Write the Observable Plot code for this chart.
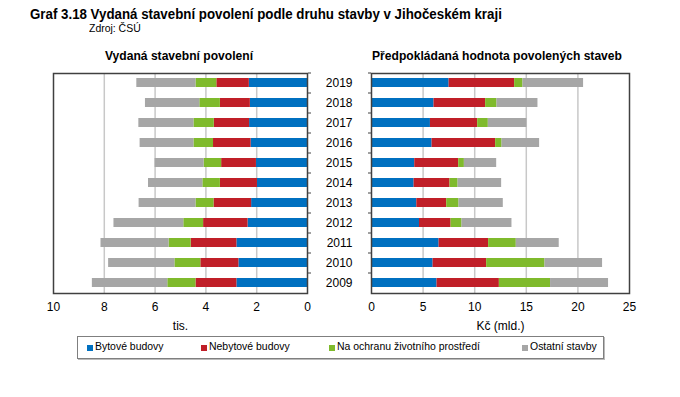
<!DOCTYPE html>
<html><head><meta charset="utf-8">
<script src="https://cdn.jsdelivr.net/npm/d3@7"></script>
<script src="https://cdn.jsdelivr.net/npm/@observablehq/plot@0.6"></script>
<style>
body{margin:0;background:#fff;}
#wrap{position:relative;width:680px;height:397px;font-family:"Liberation Sans",Arial,sans-serif;color:#000;overflow:hidden;}
.abs{position:absolute;white-space:nowrap;}
#title{left:30px;top:6px;font-size:14px;font-weight:bold;transform:scaleX(0.95);transform-origin:0 0;}
#src{left:89px;top:22px;font-size:11px;transform:scaleX(0.95);transform-origin:0 0;}
.ptitle{top:48px;font-size:13px;font-weight:bold;transform:translateX(-50%) scaleX(0.93);}
#legend{left:77px;top:336px;width:525px;height:21px;border:1px solid #7f7f7f;box-shadow:1px 1px 0 #bbb;}
.sw{position:absolute;width:6px;height:6px;top:8px;}
.lt{position:absolute;top:3px;font-size:11px;transform:scaleX(0.95);transform-origin:0 0;}
</style></head>
<body><div id="wrap">
<div id="title" class="abs">Graf 3.18 Vydaná stavební povolení podle druhu stavby v Jihočeském kraji</div>
<div id="src" class="abs">Zdroj: ČSÚ</div>
<div class="abs ptitle" style="left:179px">Vydaná stavební povolení</div>
<div class="abs ptitle" style="left:497px">Předpokládaná hodnota povolených staveb</div>
<div id="left" class="abs" style="left:0;top:0"></div>
<div id="right" class="abs" style="left:310px;top:0"></div>
<div id="legend" class="abs"></div>
</div>
<script>
const years = [2019,2018,2017,2016,2015,2014,2013,2012,2011,2010,2009];
const seriesNames = ["Bytové budovy","Nebytové budovy","Na ochranu životního prostředí","Ostatní stavby"];
const seriesColors = ["#0070c0","#c01f28","#7fba2c","#a6a6a6"];
// Vydaná stavební povolení (tis.)
const permitsBytove   = [2.29,2.25,2.28,2.22,2.01,1.97,2.20,2.34,2.78,2.70,2.78];
const permitsNebytove = [1.28,1.18,1.39,1.48,1.37,1.46,1.48,1.75,1.80,1.50,1.61];
const permitsOchrana  = [0.82,0.81,0.80,0.77,0.69,0.69,0.71,0.78,0.87,1.02,1.11];
const permitsOstatni  = [2.33,2.14,2.17,2.12,1.93,2.14,2.24,2.75,2.68,2.61,2.97];
// Předpokládaná hodnota (Kč mld.)
const valueBytove   = [7.52,6.06,5.71,5.87,4.19,4.13,4.39,4.65,6.55,5.97,6.35];
const valueNebytove = [6.35,5.00,4.58,6.16,4.26,3.48,2.90,3.06,4.80,5.19,6.04];
const valueOchrana  = [0.81,1.10,1.03,0.62,0.55,0.78,1.19,1.06,2.68,5.65,4.96];
const valueOstatni  = [5.87,3.97,3.74,3.64,3.13,4.22,4.29,4.84,4.16,5.58,5.62];
const leftTicks = [0,2,4,6,8,10];
const rightTicks = [0,5,10,15,20,25];

function longForm(arrs){
  const out=[];
  years.forEach((y,i)=>arrs.forEach((a,s)=>out.push({year:y,series:seriesNames[s],value:a[i]})));
  return out;
}
const permits = longForm([permitsBytove,permitsNebytove,permitsOchrana,permitsOstatni]);
const values = longForm([valueBytove,valueNebytove,valueOchrana,valueOstatni]);

const font = "Liberation Sans, Arial, sans-serif";
const common = {
  height:340, marginTop:73, marginBottom:47,
  style:{fontFamily:font,fontSize:"12px",background:"transparent",color:"#000",overflow:"visible"},
  y:{type:"band",domain:years,paddingInner:0.53,paddingOuter:0.265,label:null},
  color:{domain:seriesNames,range:seriesColors}
};

const leftPlot = Plot.plot({
  ...common, width:330, marginLeft:53, marginRight:23,
  x:{domain:[0,10],reverse:true},
  marks:[
    Plot.gridX([2,4,6,8],{stroke:"#c8c8c8",strokeOpacity:1,strokeWidth:1.5}),
    Plot.barX(permits,Plot.stackX({x:"value",y:"year",fill:"series",order:seriesNames})),
    Plot.frame({stroke:"#404040",strokeWidth:1.5}),
    Plot.axisX(leftTicks,{tickSize:0,tickPadding:9,fontSize:12,label:"tis.",labelAnchor:"center",labelArrow:false,labelOffset:36}),
    Plot.axisY({anchor:"right",tickSize:3,tickFormat:()=>"",dy:-10,label:null,stroke:"#404040"})
  ]
});
document.getElementById("left").append(leftPlot);

const rightPlot = Plot.plot({
  ...common, width:370, marginLeft:61, marginRight:51,
  x:{domain:[0,25]},
  marks:[
    Plot.gridX([5,10,15,20],{stroke:"#c8c8c8",strokeOpacity:1,strokeWidth:1.5}),
    Plot.barX(values,Plot.stackX({x:"value",y:"year",fill:"series",order:seriesNames})),
    Plot.frame({stroke:"#404040",strokeWidth:1.5}),
    Plot.axisX(rightTicks,{tickSize:0,tickPadding:9,fontSize:12,label:"Kč (mld.)",labelAnchor:"center",labelArrow:false,labelOffset:36}),
    Plot.axisY({anchor:"left",tickSize:0,tickPadding:19,fontSize:12,label:null,tickFormat:d=>String(d)}),
    Plot.axisY({anchor:"left",tickSize:3,tickFormat:()=>"",dy:-10,label:null,stroke:"#404040"})
  ]
});
document.getElementById("right").append(rightPlot);

const legendPos = [[9,17],[123,131],[251,259],[444,452]];
const lg = document.getElementById("legend");
seriesNames.forEach((n,i)=>{
  const sw=document.createElement("div");sw.className="sw";sw.style.left=legendPos[i][0]+"px";sw.style.background=seriesColors[i];lg.append(sw);
  const t=document.createElement("div");t.className="lt";t.style.left=legendPos[i][1]+"px";t.textContent=n;lg.append(t);
});
</script>
</body></html>
